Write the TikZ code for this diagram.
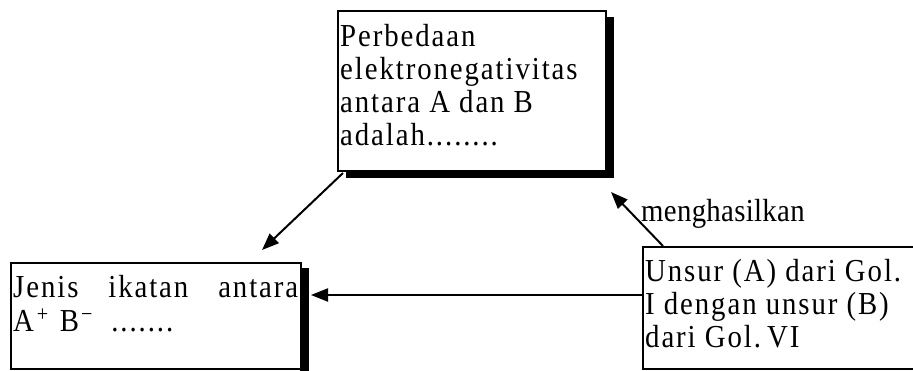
\documentclass[tikz,border=0pt]{standalone}
\usepackage{fontspec}
\setmainfont{Liberation Serif}[LetterSpace=6,FakeStretch=0.9]
\usetikzlibrary{arrows.meta,calc}
\frenchspacing
\begin{document}
\begin{tikzpicture}[x=1pt,y=-1pt,
  txt/.style={anchor=base west,inner sep=0pt,font=\fontsize{32}{33}\selectfont\frenchspacing},
  boxstyle/.style={draw=black,fill=white,line width=2pt,rectangle,inner sep=0pt},
  shadowstyle/.style={fill=black,draw=none},
  arr/.style={line width=2pt,-{Triangle[length=17pt,width=13pt]}}]
\useasboundingbox (0,0) rectangle (913,371);
\clip (0,0) rectangle (913,371);
% shadows
\fill[shadowstyle] (346,17) rectangle (614,178);
\fill[shadowstyle] (300,268) rectangle (309,380);
% boxes
\node[boxstyle,minimum width=268pt,minimum height=160pt,anchor=north west] (tb) at (337,10) {};
\node[boxstyle,minimum width=290pt,minimum height=106pt,anchor=north west] (lb) at (10,262) {};
\node[boxstyle,minimum width=290pt,minimum height=122pt,anchor=north west] (rb) at (642,246) {};
% texts
\node[txt] (t1) at (340,47) {Perbedaan};
\node[txt] (t2) at (340,80) {elektronegativitas};
\node[txt] (t3) at (340,113) {antara A dan B};
\node[txt] (t4) at (340,146) {adalah........};
\node[txt] (l1) at (13,298) {\makebox[285pt][s]{Jenis ikatan antara}};
\node[txt] (l2) at (13,331) {A\kern3pt\textsuperscript{+}\kern2pt\ B\kern2pt\textsuperscript{−}\ \ .......};
\node[txt] (r1) at (645,282) {Unsur (A) dari Gol.};
\node[txt] (r2) at (645,315) {I dengan unsur (B)};
\node[txt] (r3) at (645,348) {dari Gol.\kern-3pt\ VI};
\node[txt,font=\fontsize{32}{33}\selectfont\addfontfeature{LetterSpace=1}] (m) at (641,222) {menghasilkan};
% connectors
\coordinate (a1s) at ($(tb.south west)+(6,1)$);
\coordinate (a1e) at ($(lb.north east)+(-40,-12)$);
\draw[arr] (a1s) -- (a1e);
\coordinate (a2s) at ($(rb.north west)+(21,0)$);
\coordinate (a2e) at ($(tb.south east)+(4,20)$);
\draw[arr] (a2s) -- (a2e);
\coordinate (a3s) at ($(rb.north west)+(0,49)$);
\coordinate (a3e) at ($(lb.north east)+(9,33)$);
\draw[arr] (a3s) -- (a3e);
\end{tikzpicture}
\end{document}
